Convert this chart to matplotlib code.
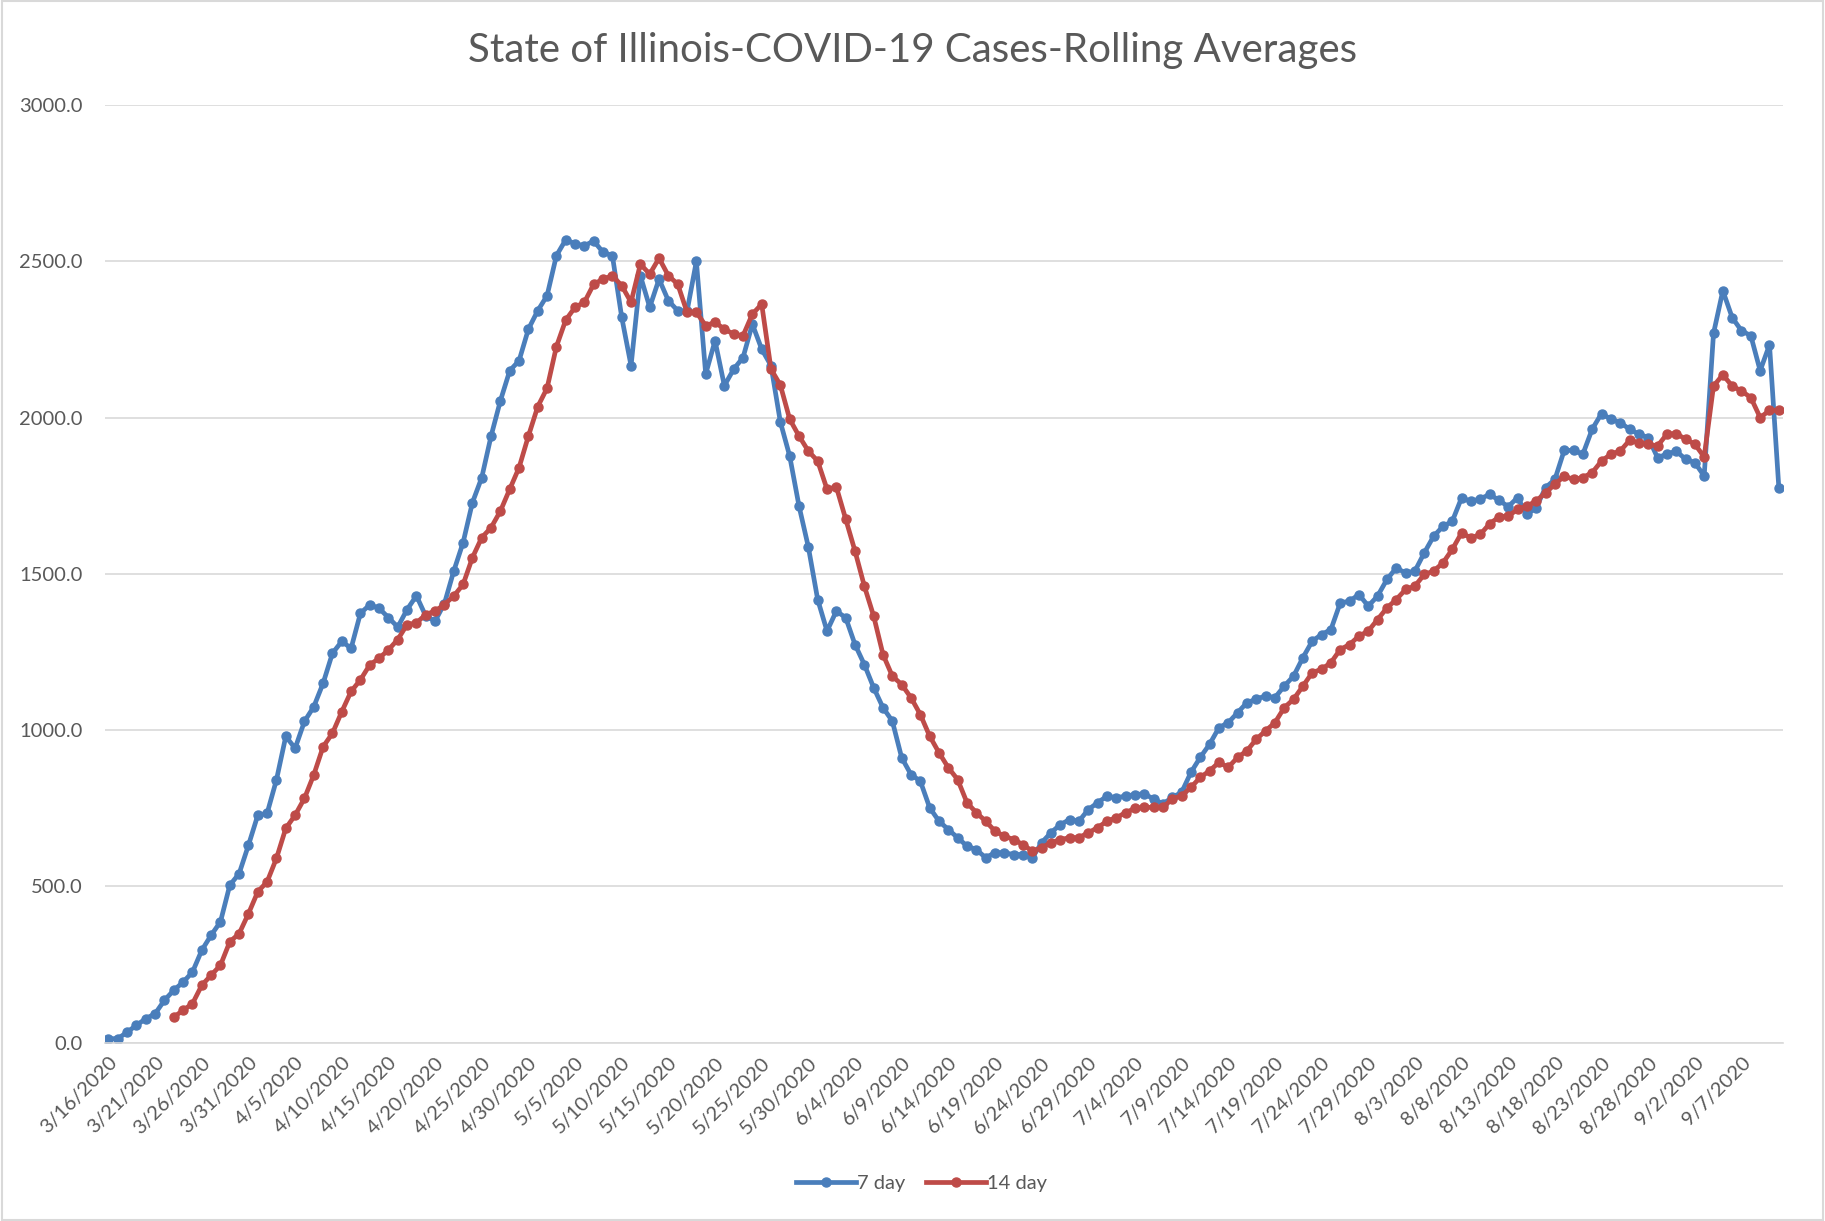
import matplotlib
matplotlib.use("Agg")
import matplotlib.pyplot as plt
import numpy as np
import pandas as pd

# dates, one per day from 3/16/2020
dates = pd.date_range("2020-03-16", periods=180, freq="D")

# 7 day rolling average
avg_7day = [
    13, 13, 34, 56, 77, 93, 136, 168, 194, 226,
    296, 344, 387, 504, 541, 632, 728, 734, 841, 980,
    942, 1028, 1075, 1150, 1246, 1284, 1262, 1374, 1401, 1390,
    1360, 1330, 1386, 1430, 1365, 1349, 1405, 1509, 1600, 1728,
    1808, 1941, 2054, 2150, 2182, 2283, 2342, 2390, 2518, 2569,
    2556, 2550, 2565, 2529, 2518, 2321, 2166, 2454, 2353, 2443,
    2374, 2342, 2340, 2500, 2139, 2246, 2102, 2155, 2192, 2299,
    2219, 2166, 1986, 1877, 1717, 1586, 1418, 1317, 1381, 1360,
    1274, 1210, 1136, 1072, 1029, 912, 858, 837, 752, 709,
    682, 656, 629, 618, 592, 608, 608, 602, 602, 592,
    640, 672, 698, 714, 709, 746, 768, 789, 784, 789,
    794, 796, 780, 764, 785, 801, 865, 913, 955, 1008,
    1024, 1056, 1088, 1099, 1110, 1104, 1141, 1173, 1232, 1285,
    1306, 1322, 1407, 1413, 1434, 1397, 1429, 1482, 1519, 1503,
    1509, 1567, 1620, 1652, 1668, 1743, 1732, 1740, 1754, 1736,
    1715, 1744, 1690, 1712, 1776, 1802, 1895, 1895, 1883, 1963,
    2013, 1995, 1984, 1963, 1947, 1936, 1872, 1883, 1893, 1867,
    1856, 1813, 2269, 2406, 2320, 2278, 2262, 2150, 2233, 1776,
]

# 14 day rolling average, starts 3/23
avg_14day = [np.nan] * 7 + [
    82, 104, 125,
    184, 216, 248, 323, 349, 413, 483, 515, 590, 686,
    728, 782, 857, 947, 990, 1059, 1124, 1161, 1209, 1230,
    1257, 1290, 1338, 1343, 1370, 1381, 1402, 1429, 1466, 1552,
    1616, 1648, 1701, 1771, 1840, 1941, 2035, 2094, 2227, 2312,
    2353, 2369, 2427, 2443, 2454, 2422, 2369, 2491, 2459, 2510,
    2454, 2427, 2337, 2337, 2294, 2305, 2283, 2267, 2262, 2331,
    2363, 2155, 2104, 1995, 1941, 1893, 1861, 1771, 1778, 1675,
    1573, 1461, 1365, 1242, 1173, 1146, 1104, 1050, 981, 928,
    880, 842, 768, 736, 709, 677, 661, 650, 634, 613,
    624, 640, 650, 656, 656, 672, 688, 709, 720, 736,
    750, 753, 753, 753, 780, 790, 817, 849, 870, 897,
    881, 913, 934, 971, 998, 1024, 1072, 1099, 1141, 1184,
    1195, 1216, 1258, 1274, 1301, 1317, 1354, 1391, 1418, 1450,
    1461, 1498, 1509, 1535, 1578, 1631, 1615, 1626, 1660, 1682,
    1685, 1706, 1717, 1733, 1760, 1786, 1813, 1802, 1808, 1824,
    1861, 1883, 1893, 1927, 1920, 1915, 1909, 1947, 1949, 1931,
    1915, 1874, 2101, 2137, 2101, 2085, 2064, 2000, 2023, 2023,
]

y_ticks = [0, 500, 1000, 1500, 2000, 2500, 3000]

blue = "#4A7EBB"
red = "#BE4B48"
text_col = "#595959"
grid_col = "#D9D9D9"

plt.rcParams["font.family"] = ["Lato", "DejaVu Sans"]

fig = plt.figure(figsize=(18.25, 12.21), dpi=100)
ax = fig.add_axes([0.0574, 0.146, 0.9196, 0.768])

x = np.arange(len(dates))
ax.plot(x, avg_7day, color=blue, lw=3.4, marker="o", ms=6.5, label="7 day")
ax.plot(x, avg_14day, color=red, lw=3.4, marker="o", ms=6.5, label="14 day")

ax.set_xlim(-0.4, 179.45)
ax.set_ylim(0, 3000)
ax.set_yticks(y_ticks)
ax.set_yticklabels([f"{v:.1f}" for v in y_ticks])
ax.grid(axis="y", color=grid_col, lw=1.2)
ax.set_axisbelow(True)

tick_pos = x[::5]
tick_lab = [f"{d.month}/{d.day}/{d.year}" for d in dates[::5]]
ax.set_xticks(tick_pos)
ax.set_xticklabels(tick_lab, rotation=45, ha="right", rotation_mode="anchor")

ax.tick_params(axis="both", length=0, colors=text_col, labelsize=14.5)
ax.tick_params(axis="y", pad=16)
ax.tick_params(axis="x", pad=8)
for s in ["top", "right", "left"]:
    ax.spines[s].set_visible(False)
ax.spines["bottom"].set_color(grid_col)
ax.spines["bottom"].set_linewidth(1.2)

fig.text(0.5, 0.959, "State of Illinois-COVID-19 Cases-Rolling Averages",
         ha="center", va="center", fontsize=29, color=text_col)

fig.legend(loc="center", bbox_to_anchor=(0.505, 0.0305), ncol=2, frameon=False,
           fontsize=14.5, labelcolor=text_col, handlelength=3.0, handletextpad=0.05,
           columnspacing=1.0)

# chart area border
fig.patches.append(plt.Rectangle((0.001, 0.001), 0.998, 0.998, transform=fig.transFigure,
                                 fill=False, edgecolor=grid_col, lw=1.5))

fig.savefig("out.png", dpi=100, facecolor="white")
